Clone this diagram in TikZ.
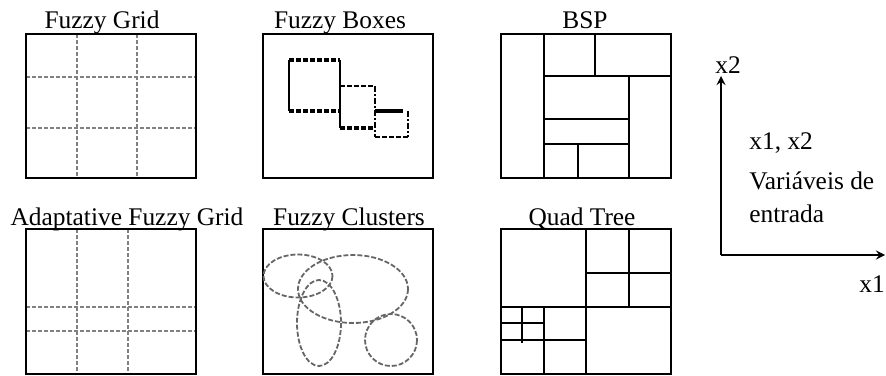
\documentclass[tikz,border=0pt]{standalone}
\usepackage{fontspec}
\setmainfont{Liberation Serif}
\usepackage{tikz}
\usetikzlibrary{arrows}

\tikzset{
  frm/.style={line width=1pt},
  griddash/.style={gray, line width=0.8pt, dash pattern=on 2pt off 1pt},
  clusterdash/.style={black!60, line width=0.9pt, dash pattern=on 2.5pt off 1pt},
  thickdash/.style={line width=1.7pt, dash pattern=on 2.5pt off 1pt},
  thindash/.style={line width=0.9pt, dash pattern=on 2.5pt off 1pt},
  dotdash/.style={line width=0.9pt, dash pattern=on 3pt off 1pt on 1pt off 1pt},
  ttl/.style={anchor=base, font=\fontsize{12.7}{15}\selectfont, inner sep=0pt},
  lbl/.style={anchor=base west, font=\fontsize{12.7}{15}\selectfont, inner sep=0pt}
}

\begin{document}
\begin{tikzpicture}[x=0.5pt, y=-0.5pt]
    \useasboundingbox (0,0) rectangle (886,375);
    \def\frameA{ (0,0) rectangle (170,144) };
    \def\frameB{ (0,0) rectangle (170,145) };

    % --- FUZZY GRID ---
    \node[ttl] (tgrid) at (102,28) {Fuzzy Grid};
    \begin{scope}[shift={(26,34)}]
	\draw[griddash] (51,0) -- (51,144);
	\draw[griddash] (111,0) -- (111,144);
	\draw[griddash] (0,43) -- (170,43);
	\draw[griddash] (0,94) -- (170,94);
	\draw[frm] \frameA;
    \end{scope}

    % --- FUZZY BOXES ---
    \node[ttl] (tboxes) at (340,28) {Fuzzy Boxes};
    \begin{scope}[shift={(263,34)}]
	\draw[frm] \frameA;
	\draw[thickdash] (26,26) -- (77,26);
	\draw[line width=1pt] (26,26) -- (26,77);
	\draw[thickdash] (26,77) -- (77,77);
	\draw[line width=1pt] (77,26) -- (77,94);
	\draw[thindash] (77,52) -- (112,52);
	\draw[dotdash] (112,52) -- (112,103);
	\draw[thickdash] (77,94) -- (112,94);
	\draw[line width=1.6pt] (112,77) -- (140,77);
	\draw[dotdash] (145,77) -- (145,103);
	\draw[thindash] (112,103) -- (145,103);
    \end{scope}

    % --- BSP ---
    \node[ttl] (tbsp) at (585,28) {BSP};
    \begin{scope}[shift={(501,34)}]
	\draw[frm] \frameA;
	\draw[frm] (43,0) -- (43,144);
	\draw[frm] (43,42) -- (170,42);
	\draw[frm] (94,0) -- (94,42);
	\draw[frm] (128,42) -- (128,144);
	\draw[frm] (43,85) -- (128,85);
	\draw[frm] (43,110) -- (128,110);
	\draw[frm] (77,110) -- (77,144);
    \end{scope}

    % --- ADAPTATIVE FUZZY GRID ---
    \node[ttl] (tadapt) at (127,225) {Adaptative Fuzzy Grid};
    \begin{scope}[shift={(26,229)}]
	\draw[griddash] (51,0) -- (51,145);
	\draw[griddash] (102,0) -- (102,145);
	\draw[griddash] (0,78) -- (170,78);
	\draw[griddash] (0,102) -- (170,102);
	\draw[frm] \frameB;
    \end{scope}

    % --- FUZZY CLUSTERS ---
    \node[ttl] (tclust) at (349,225) {Fuzzy Clusters};
    \begin{scope}[shift={(263,229)}]
	\draw[frm] \frameB;
	\draw[clusterdash] (35,47) ellipse [x radius=34.5, y radius=21.5];
	\draw[clusterdash] (90,60) ellipse [x radius=55, y radius=34];
	\draw[clusterdash] (56,94) ellipse [x radius=22, y radius=43];
	\draw[clusterdash] (128,111) circle [radius=26];
    \end{scope}

    % --- QUAD TREE ---
    \node[ttl] (tquad) at (582,225) {Quad Tree};
    \begin{scope}[shift={(501,229)}]
	\draw[frm] \frameB;
	\draw[frm] (85,0) -- (85,145);
	\draw[frm] (0,78) -- (170,78);
	\draw[frm] (128,0) -- (128,78);
	\draw[frm] (85,44) -- (170,44);
	\draw[frm] (0,111) -- (85,111);
	\draw[frm] (43,78) -- (43,145);
	\draw[frm] (21,78) -- (21,114);
	\draw[frm] (0,94) -- (43,94);
    \end{scope}

    % --- AXES ---
    \coordinate (orig) at (721,255);
    \coordinate (ytop) at (721,76);
    \coordinate (xend) at (885,255);
    \draw[line width=1pt,-stealth] (orig) -- (ytop);
    \draw[line width=1pt,-stealth] (orig) -- (xend);
    \node[lbl] (lx2) at (715,73) {x2};
    \node[lbl] (lx1) at (859,292) {x1};
    \node[lbl] (lvars) at (749,149) {x1, x2};
    \node[lbl] (lvar) at (749,189) {Variáveis de};
    \node[lbl] (lent) at (749,222) {entrada};
\end{tikzpicture}
\end{document}
